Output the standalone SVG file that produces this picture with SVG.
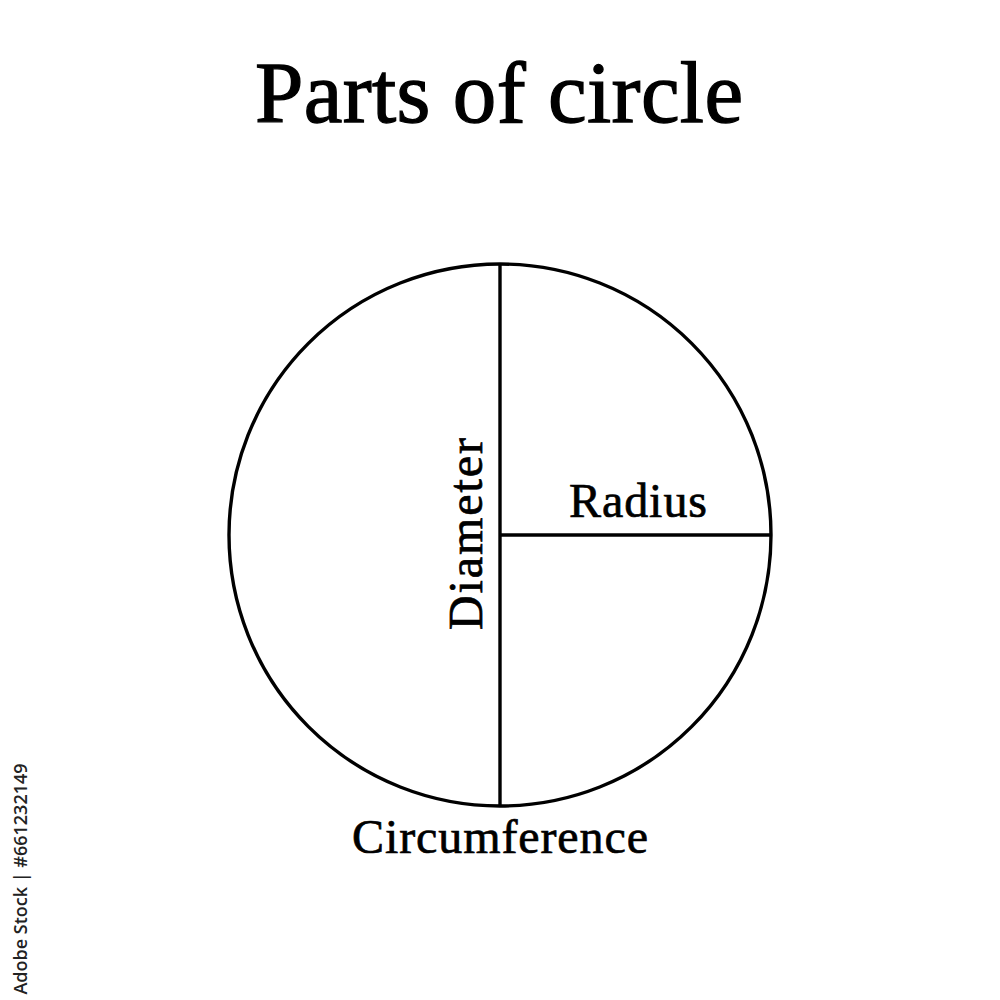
<svg xmlns="http://www.w3.org/2000/svg" width="1000" height="1000" viewBox="0 0 1000 1000">
<style>
.t{font-family:"Liberation Serif","DejaVu Serif",serif;fill:#000;stroke:#000;stroke-width:0.7}
.ln{stroke:#000;stroke-width:3.4;fill:none}
</style>
<rect width="1000" height="1000" fill="#fff"/>
<text class="t" x="499" y="122" font-size="87" text-anchor="middle" style="stroke-width:1.3" textLength="488" lengthAdjust="spacing">Parts of circle</text>
<g id="circle"><circle class="ln" cx="500" cy="535" r="271"/></g>
<g id="connectors">
<line class="ln" x1="500" y1="264" x2="500" y2="806"/>
<line class="ln" x1="500" y1="535" x2="771" y2="535"/>
</g>
<g id="diameter"><text class="t" font-size="48" text-anchor="middle" transform="translate(482,534) rotate(-90)" textLength="192" lengthAdjust="spacing">Diameter</text></g>
<g id="radius"><text class="t" x="638" y="517" font-size="48" text-anchor="middle" textLength="138" lengthAdjust="spacing">Radius</text></g>
<g id="circumference"><text class="t" x="500" y="853" font-size="48" text-anchor="middle" textLength="296" lengthAdjust="spacing">Circumference</text></g>
<text font-family="'Open Sans','Liberation Sans',sans-serif" font-size="18" font-weight="600" fill="#222" text-anchor="middle" transform="translate(27,879) rotate(-90)">Adobe Stock | #661232149</text>
</svg>
